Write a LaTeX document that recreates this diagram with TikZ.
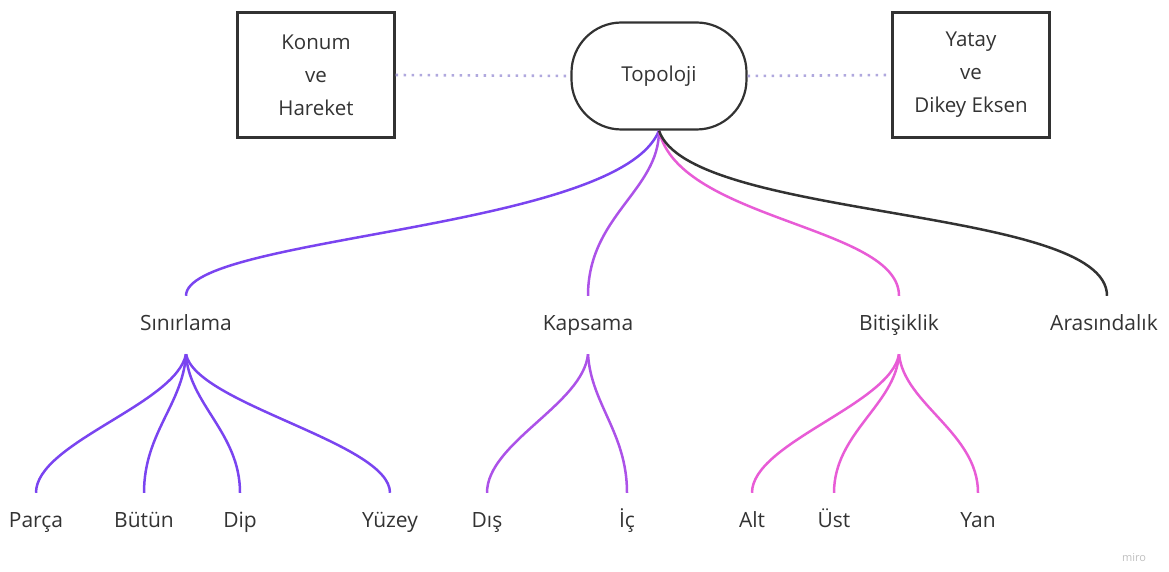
\documentclass[tikz,border=0pt]{standalone}
\usepackage{fontspec}
\setmainfont{Open Sans}
\usepackage{tikz}
\usetikzlibrary{calc}

\definecolor{sinirc}{RGB}{122,68,240}
\definecolor{kapsc}{RGB}{172,82,232}
\definecolor{bitic}{RGB}{232,92,214}
\definecolor{arac}{RGB}{50,50,50}
\definecolor{dotc}{RGB}{176,168,222}
\definecolor{txtc}{RGB}{51,51,51}

\begin{document}
\begin{tikzpicture}[x=1pt,y=-1pt,
        lbl/.style={inner sep=0pt, minimum height=58pt, text height=15pt, text depth=4.5pt,
            font=\fontsize{21}{24}\selectfont, text=txtc},
        kutu/.style={draw=arac, line width=2.2pt, minimum width=157pt, minimum height=125pt,
            align=center, font=\fontsize{20.5}{33}\selectfont, text=txtc},
        dal/.style={line width=2.5pt},
        nokta/.style={dotc, line width=2.6pt, dash pattern=on 2.6pt off 5.4pt}]
        \useasboundingbox (0,0) rectangle (1169,572);

        % ust satir
        \node[kutu] (konum) at (316,75) {Konum\\ve\\Hareket};
        \node[kutu] (yatay) at (971,75) {Yatay\\ve\\Dikey Eksen};
        \node[draw=arac, line width=2.2pt, rounded corners=50pt, minimum width=175pt, minimum height=107pt,
            font=\fontsize{20.5}{24}\selectfont, text=txtc] (topo) at (659,76) {Topoloji};

        \draw[nokta] (konum.east) -- (topo.west);
        \draw[nokta] (topo.east) -- (yatay.west);

        % ikinci seviye
        \node[lbl] (sinir) at (186,325) {Sınırlama};
        \node[lbl] (kaps) at (588,325) {Kapsama};
        \node[lbl] (biti) at (899,325) {Bitişiklik};
        \node[lbl] (ara) at (1104,325) {Arasındalık};

        \draw[dal, sinirc] (topo.south) .. controls +(-40,100) and +(0,-60) .. (sinir.north);
        \draw[dal, kapsc] (topo.south) .. controls +(0,60) and +(0,-80) .. (kaps.north);
        \draw[dal, bitic] (topo.south) .. controls +(20,90) and +(0,-70) .. (biti.north);
        \draw[dal, arac] (topo.south) .. controls +(30,90) and +(0,-90) .. ($(ara.north)+(3,0)$);

        % yapraklar
        \node[lbl] (parca) at (36,522) {Parça};
        \node[lbl] (butun) at (144,522) {Bütün};
        \node[lbl] (dip) at (240,522) {Dip};
        \node[lbl] (yuzey) at (390,522) {Yüzey};
        \node[lbl] (dis) at (487,522) {Dış};
        \node[lbl] (ic) at (627,522) {İç};
        \node[lbl] (alt) at (752,522) {Alt};
        \node[lbl] (ust) at (834,522) {Üst};
        \node[lbl] (yan) at (978,522) {Yan};

        \draw[dal, sinirc] (sinir.south) .. controls +(-10,50) and +(0,-50) .. (parca.north);
        \draw[dal, sinirc] (sinir.south) .. controls +(-3,50) and +(0,-60) .. (butun.north);
        \draw[dal, sinirc] (sinir.south) .. controls +(3,50) and +(0,-60) .. (dip.north);
        \draw[dal, sinirc] (sinir.south) .. controls +(10,50) and +(0,-50) .. (yuzey.north);

        \draw[dal, kapsc] (kaps.south) .. controls +(-5,50) and +(0,-50) .. (dis.north);
        \draw[dal, kapsc] (kaps.south) .. controls +(3,50) and +(0,-60) .. (ic.north);

        \draw[dal, bitic] (biti.south) .. controls +(-8,50) and +(0,-50) .. (alt.north);
        \draw[dal, bitic] (biti.south) .. controls +(-3,50) and +(0,-60) .. (ust.north);
        \draw[dal, bitic] (biti.south) .. controls +(5,50) and +(0,-60) .. (yan.north);

        \node[font=\fontsize{11}{13}\selectfont, text=black!25] (miro) at (1134,558) {miro};
\end{tikzpicture}
\end{document}
